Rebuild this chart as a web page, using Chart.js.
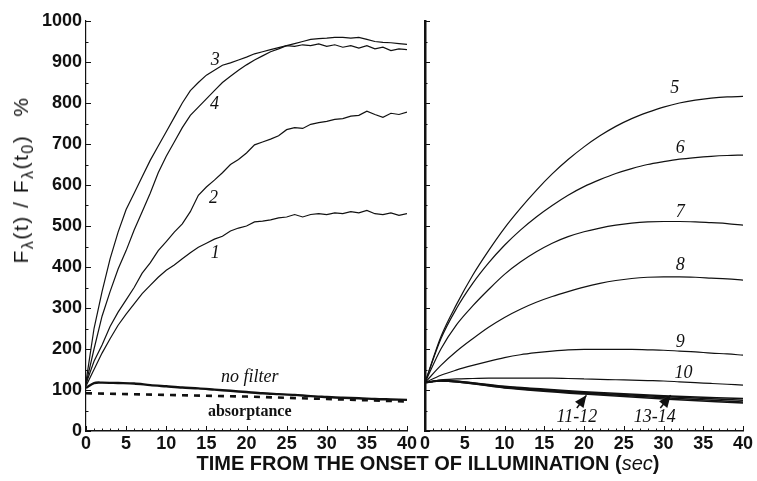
<!DOCTYPE html>
<html>
<head>
<meta charset="utf-8">
<script src="https://cdn.jsdelivr.net/npm/chart.js@4.4.0/dist/chart.umd.min.js"></script>
<style>
  html, body { margin: 0; padding: 0; background: #fff; }
  #wrap { position: relative; width: 757px; height: 481px; overflow: hidden; background: #fff; }
  canvas { position: absolute; top: 0; }
  #leftChart { left: 0; }
  #rightChart { left: 410px; }
  #xTitle {
    position: absolute; left: 428px; top: 452px; transform: translateX(-50%);
    white-space: nowrap; font: bold 20px 'Liberation Sans', Arial, sans-serif; color: #111;
  }
  #xTitle i { font-weight: normal; }
  #yTitle {
    position: absolute; left: 23px; top: 180px;
    transform: translate(-50%, -50%) rotate(-90deg);
    white-space: nowrap; font: 21px 'Liberation Sans', Arial, sans-serif; color: #111; letter-spacing: 1.5px;
  }
  #yTitle sub { font-size: 16px; vertical-align: -5px; }
  #yTitle .pct { margin-left: 18px; }
</style>
</head>
<body>
<div id="wrap">
  <canvas id="leftChart" width="420" height="481"></canvas>
  <canvas id="rightChart" width="347" height="481"></canvas>
  <div id="yTitle">F<sub>λ</sub>(t) / F<sub>λ</sub>(t<sub>0</sub>)<span class="pct">%</span></div>
  <div id="xTitle">TIME FROM THE ONSET OF ILLUMINATION (<i>sec</i>)</div>
</div>
<script>
// ---------- data: left panel (filtered light, noisy records) ----------
const tNoisy = [0,1,2,3,4,5,6,7,8,9,10,11,12,13,14,15,16,17,18,19,20,
                21,22,23,24,25,26,27,28,29,30,31,32,33,34,35,36,37,38,39,40];
const curve1 = [110,150,190,225,258,285,310,335,355,375,392,405,420,435,448,458,468,475,488,495,500,
                510,512,515,520,522,528,522,528,530,528,532,530,535,532,538,530,528,532,526,530];
const curve2 = [115,170,210,255,290,320,350,385,410,440,462,485,505,535,575,595,612,630,650,662,678,
                698,705,712,720,735,740,738,748,752,755,760,762,768,770,780,772,765,775,772,778];
const curve3 = [120,250,340,420,485,540,580,620,660,695,730,765,800,830,850,868,880,892,898,905,912,
                920,925,930,935,940,938,942,940,944,938,942,936,940,934,940,932,936,928,932,930];
const curve4 = [115,200,280,340,395,440,490,535,580,630,670,705,740,770,790,810,830,850,865,880,893,
                905,915,925,932,940,945,950,955,957,958,960,960,958,960,955,950,948,947,945,943];

const tNoFilter = [0,1,2,4,6,8,10,12,14,16,18,20,22,24,26,28,30,32,34,36,38,40];
const noFilter  = [105,117,118,117,116,112,109,106,104,101,98,95,92,90,88,85,83,81,80,78,77,76];

const tAbsorb = [0,10,20,30,40];
const absorptance = [92,88,84,78,72];

// ---------- data: right panel ----------
const tSmooth = [0,2,4,6,8,10,12,14,16,18,20,22,24,26,28,30,32,34,36,38,40];
const curve5  = [118,230,310,380,440,495,543,587,627,662,693,720,743,762,777,790,800,807,812,815,816];
const curve6  = [118,225,300,360,410,453,490,522,550,575,596,613,628,640,650,657,663,667,670,672,673];
const curve7  = [118,200,260,305,345,382,412,437,458,474,486,495,502,507,510,511,511,510,508,506,502];
const curve8  = [118,160,195,225,253,277,297,314,328,340,351,360,367,372,375,376,376,375,373,371,368];
const curve9  = [118,136,149,160,170,179,186,191,195,198,199,199,199,199,198,197,195,193,190,188,185];
const curve10 = [118,125,127,128,129,129,129,129,129,128,127,126,125,124,123,122,120,118,116,114,112];

const tBundle = [0,2,10,20,30,40];
const curve11 = [118,122,105,90,78,68];
const curve12 = [118,122,106,92,81,71];
const curve13 = [118,123,108,94,84,75];
const curve14 = [118,123,109,96,86,79];

// text placed on the plot, in axis units
const leftLabels = [
  { text: '3', x: 16.1, y: 905, font: 'italic 18px "Liberation Serif", serif' },
  { text: '4', x: 16.0, y: 798, font: 'italic 18px "Liberation Serif", serif' },
  { text: '2', x: 15.9, y: 568, font: 'italic 18px "Liberation Serif", serif' },
  { text: '1', x: 16.1, y: 434, font: 'italic 18px "Liberation Serif", serif' },
  { text: 'no filter', x: 20.4, y: 132, font: 'italic 18px "Liberation Serif", serif' },
  { text: 'absorptance', x: 20.4, y: 46, font: 'bold 16px "Liberation Serif", serif' }
];
const rightLabels = [
  { text: '5', x: 31.4, y: 836, font: 'italic 18px "Liberation Serif", serif' },
  { text: '6', x: 32.1, y: 690, font: 'italic 18px "Liberation Serif", serif' },
  { text: '7', x: 32.1, y: 534, font: 'italic 18px "Liberation Serif", serif' },
  { text: '8', x: 32.1, y: 405, font: 'italic 18px "Liberation Serif", serif' },
  { text: '9', x: 32.1, y: 217, font: 'italic 18px "Liberation Serif", serif' },
  { text: '10', x: 32.5, y: 141, font: 'italic 18px "Liberation Serif", serif' },
  { text: '11-12', x: 19.1, y: 34, font: 'italic 18px "Liberation Serif", serif' },
  { text: '13-14', x: 28.9, y: 34, font: 'italic 18px "Liberation Serif", serif' }
];
const rightArrows = [
  { from: [19.1, 56], to: [20.3, 87] },
  { from: [29.6, 56], to: [30.9, 87] }
];

// ---------- helpers ----------
const pts = (xs, ys) => xs.map((x, i) => ({ x: x, y: ys[i] }));
const line = (xs, ys, extra) => Object.assign({
  data: pts(xs, ys), borderColor: '#111', borderWidth: 1.2, pointRadius: 0, fill: false
}, extra || {});

const tickFont = { family: "'Liberation Sans', Arial, sans-serif", size: 18, weight: 'bold' };

// inward tick marks on both axes
const innerTicks = {
  id: 'innerTicks',
  afterDraw(chart) {
    const { ctx, chartArea, scales: { x, y } } = chart;
    ctx.save();
    ctx.strokeStyle = '#111';
    ctx.lineWidth = 1;
    ctx.beginPath();
    for (let v = 0; v <= 40; v++) {
      const px = Math.round(x.getPixelForValue(v)) + 0.5;
      const len = v % 5 === 0 ? 5 : 2.5;
      ctx.moveTo(px, chartArea.bottom);
      ctx.lineTo(px, chartArea.bottom - len);
    }
    for (let v = 0; v <= 1000; v += 50) {
      const py = Math.round(y.getPixelForValue(v)) + 0.5;
      const len = v % 100 === 0 ? 5 : 2.5;
      ctx.moveTo(chartArea.left, py);
      ctx.lineTo(chartArea.left + len, py);
    }
    ctx.stroke();
    ctx.restore();
  }
};

// curve numbers and notes, plus the two pointer arrows
const curveLabels = {
  id: 'curveLabels',
  afterDatasetsDraw(chart, args, opts) {
    const { ctx, scales: { x, y } } = chart;
    ctx.save();
    ctx.fillStyle = '#111';
    ctx.textAlign = 'center';
    ctx.textBaseline = 'middle';
    (opts.items || []).forEach(l => {
      ctx.font = l.font;
      ctx.fillText(l.text, x.getPixelForValue(l.x), y.getPixelForValue(l.y));
    });
    (opts.arrows || []).forEach(a => {
      const x0 = x.getPixelForValue(a.from[0]), y0 = y.getPixelForValue(a.from[1]);
      const x1 = x.getPixelForValue(a.to[0]), y1 = y.getPixelForValue(a.to[1]);
      const ang = Math.atan2(y1 - y0, x1 - x0);
      const head = 13;
      ctx.strokeStyle = '#111';
      ctx.lineWidth = 1.5;
      ctx.beginPath();
      ctx.moveTo(x0, y0);
      ctx.lineTo(x1, y1);
      ctx.stroke();
      ctx.beginPath();
      ctx.moveTo(x1, y1);
      ctx.lineTo(x1 - head * Math.cos(ang - 0.42), y1 - head * Math.sin(ang - 0.42));
      ctx.lineTo(x1 - head * Math.cos(ang + 0.42), y1 - head * Math.sin(ang + 0.42));
      ctx.closePath();
      ctx.fill();
    });
    ctx.restore();
  }
};

function scalesFor(showYLabels, yBorderWidth) {
  return {
    x: {
      type: 'linear', min: 0, max: 40,
      grid: { display: false, drawTicks: false },
      border: { display: true, color: '#111', width: 1.5 },
      ticks: { stepSize: 5, color: '#111', font: tickFont, padding: 2, maxRotation: 0, autoSkip: false },
      afterFit: s => { s.height = 50; }
    },
    y: {
      type: 'linear', min: 0, max: 1000,
      grid: { display: false, drawTicks: false },
      border: { display: true, color: '#111', width: yBorderWidth },
      ticks: {
        stepSize: 100, color: '#111', font: tickFont, padding: 4,
        callback: v => showYLabels ? v : ''
      },
      afterFit: s => { s.width = showYLabels ? 86 : 15; }
    }
  };
}

const baseOptions = {
  responsive: false,
  animation: false,
  events: [],
  plugins: { legend: { display: false }, tooltip: { enabled: false } }
};

// ---------- left panel ----------
new Chart(document.getElementById('leftChart'), {
  type: 'line',
  data: {
    datasets: [
      line(tNoisy, curve1),
      line(tNoisy, curve2),
      line(tNoisy, curve3),
      line(tNoisy, curve4),
      line(tNoFilter, noFilter, { borderWidth: 2.4, tension: 0.3 }),
      line(tAbsorb, absorptance, { borderWidth: 2.6, borderDash: [6, 6] })
    ]
  },
  options: Object.assign({}, baseOptions, {
    layout: { padding: { left: 0, right: 13, top: 21, bottom: 0 } },
    scales: scalesFor(true, 1.2),
    plugins: Object.assign({}, baseOptions.plugins, { curveLabels: { items: leftLabels } })
  }),
  plugins: [innerTicks, curveLabels]
});

// ---------- right panel ----------
const smooth = { tension: 0.4, cubicInterpolationMode: 'monotone' };
new Chart(document.getElementById('rightChart'), {
  type: 'line',
  data: {
    datasets: [
      line(tSmooth, curve5, smooth),
      line(tSmooth, curve6, smooth),
      line(tSmooth, curve7, smooth),
      line(tSmooth, curve8, smooth),
      line(tSmooth, curve9, smooth),
      line(tSmooth, curve10, smooth),
      line(tBundle, curve11, Object.assign({ borderWidth: 1.5 }, smooth)),
      line(tBundle, curve12, Object.assign({ borderWidth: 1.5 }, smooth)),
      line(tBundle, curve13, Object.assign({ borderWidth: 1.5 }, smooth)),
      line(tBundle, curve14, Object.assign({ borderWidth: 1.5 }, smooth))
    ]
  },
  options: Object.assign({}, baseOptions, {
    layout: { padding: { left: 0, right: 14, top: 21, bottom: 0 } },
    scales: scalesFor(false, 2.5),
    plugins: Object.assign({}, baseOptions.plugins, { curveLabels: { items: rightLabels, arrows: rightArrows } })
  }),
  plugins: [innerTicks, curveLabels]
});
</script>
</body>
</html>
